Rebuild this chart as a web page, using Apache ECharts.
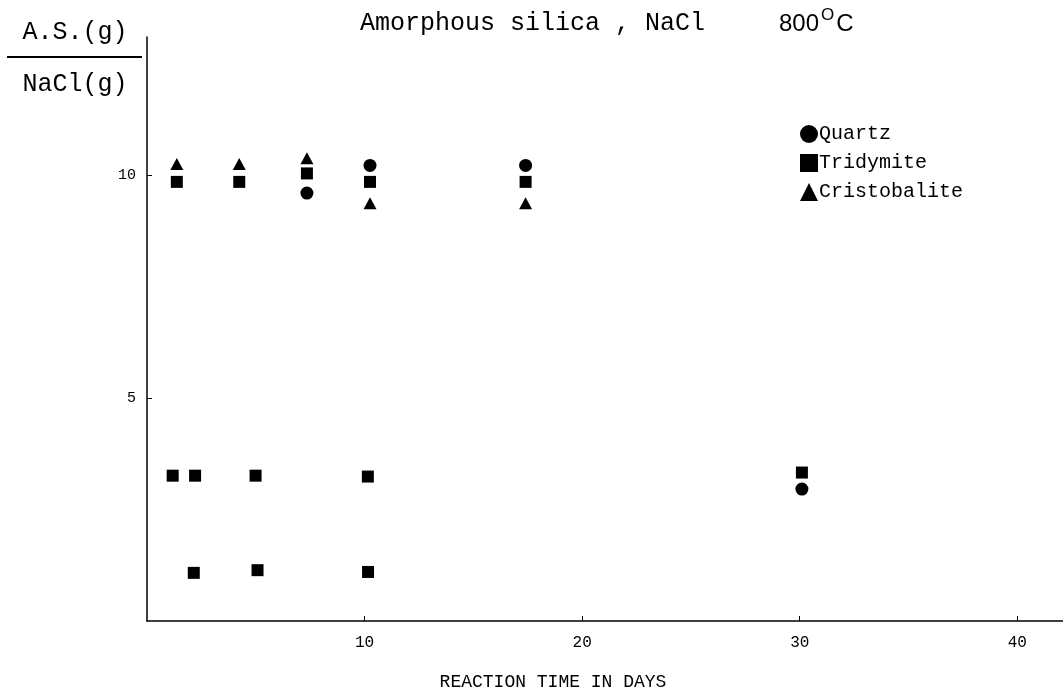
<!DOCTYPE html>
<html>
<head>
<meta charset="utf-8">
<title>Amorphous silica, NaCl 800°C</title>
<script src="https://cdn.jsdelivr.net/npm/echarts@6/dist/echarts.min.js"></script>
<style>
html, body { margin: 0; padding: 0; background: #fff; }
#main { width: 1063px; height: 693px; }
</style>
</head>
<body>
<div id="main"></div>
<script>
// reaction time (days) and A.S.(g)/NaCl(g)
var quartzDays = [7.35, 10.25, 17.4, 30.1];
var quartzRatio = [9.60, 10.22, 10.22, 2.96];

var tridymiteDays = [1.37, 4.24, 7.35, 10.25, 17.4, 1.18, 2.21, 4.99, 10.15, 2.15, 5.08, 10.16, 30.1];
var tridymiteRatio = [9.85, 9.85, 10.04, 9.85, 9.85, 3.26, 3.26, 3.26, 3.24, 1.08, 1.14, 1.10, 3.33];

var cristobaliteDays = [1.37, 4.24, 7.35, 10.25, 17.4];
var cristobaliteRatio = [10.25, 10.25, 10.38, 9.37, 9.37];

var seriesNames = ['Quartz', 'Tridymite', 'Cristobalite'];
var xTicks = { min: 0, max: 42.1, interval: 10 };
var yTicks = { min: 0, max: 13.1, interval: 5 };

function pairs(xs, ys) {
  return xs.map(function (x, i) { return [x, ys[i]]; });
}

var mono = '"Liberation Mono", "DejaVu Sans Mono", monospace';
var sans = '"Liberation Sans", Arial, sans-serif';
var black = { color: '#000', opacity: 1 };

var myChart = echarts.init(document.getElementById('main'));
var option = {
  backgroundColor: '#fff',
  animation: false,
  title: [
    {
      text: 'Amorphous silica , NaCl',
      left: 355, top: 6,
      textStyle: { fontFamily: mono, fontSize: 25, fontWeight: 'normal', color: '#000' }
    },
    {
      text: '{n|800}{s|O}{n|C}',
      left: 774, top: 2,
      textStyle: {
        rich: {
          n: { fontFamily: sans, fontSize: 24, fontWeight: 'normal', color: '#000' },
          s: { fontFamily: sans, fontSize: 17, fontWeight: 'normal', color: '#000', padding: [0, 2, 17, 2] }
        }
      }
    },
    {
      text: 'REACTION TIME IN DAYS',
      left: 548, top: 668, textAlign: 'center',
      textStyle: { fontFamily: mono, fontSize: 18, fontWeight: 'normal', color: '#000' }
    }
  ],
  graphic: [
    { type: 'text', x: 75, y: 32, style: { text: 'A.S.(g)', font: '25px ' + mono, fill: '#000', align: 'center', verticalAlign: 'middle' } },
    { type: 'line', shape: { x1: 7, y1: 57, x2: 142, y2: 57 }, style: { stroke: '#000', lineWidth: 2 } },
    { type: 'text', x: 75, y: 84, style: { text: 'NaCl(g)', font: '25px ' + mono, fill: '#000', align: 'center', verticalAlign: 'middle' } }
  ],
  legend: {
    data: [
      { name: seriesNames[0], icon: 'circle' },
      { name: seriesNames[1], icon: 'rect' },
      { name: seriesNames[2], icon: 'triangle' }
    ],
    orient: 'vertical',
    left: 795, top: 119,
    itemWidth: 18, itemHeight: 18, itemGap: 9,
    itemStyle: black,
    textStyle: { fontFamily: mono, fontSize: 20, color: '#000', padding: [0, 0, 0, -4] }
  },
  grid: { left: 147, right: 0, top: 37, bottom: 72 },
  xAxis: {
    type: 'value',
    min: xTicks.min, max: xTicks.max, interval: xTicks.interval,
    axisLine: { lineStyle: { color: '#000', width: 1.5 } },
    axisTick: { inside: true, length: 5, lineStyle: { color: '#000' } },
    axisLabel: { showMinLabel: false, showMaxLabel: false, margin: 14, fontFamily: mono, fontSize: 16, color: '#000' },
    splitLine: { show: false }
  },
  yAxis: {
    type: 'value',
    min: yTicks.min, max: yTicks.max, interval: yTicks.interval,
    axisLine: { show: true, lineStyle: { color: '#000', width: 1.5 } },
    axisTick: { show: true, inside: true, length: 5, lineStyle: { color: '#000' } },
    axisLabel: { showMinLabel: false, showMaxLabel: false, margin: 11, fontFamily: mono, fontSize: 15, color: '#000' },
    splitLine: { show: false }
  },
  series: [
    {
      name: seriesNames[0], type: 'scatter', symbol: 'circle', symbolSize: 13,
      itemStyle: black,
      data: pairs(quartzDays, quartzRatio)
    },
    {
      name: seriesNames[1], type: 'scatter', symbol: 'rect', symbolSize: 12,
      itemStyle: black,
      data: pairs(tridymiteDays, tridymiteRatio)
    },
    {
      name: seriesNames[2], type: 'scatter', symbol: 'triangle', symbolSize: [13, 12],
      itemStyle: black,
      data: pairs(cristobaliteDays, cristobaliteRatio)
    }
  ]
};
option && myChart.setOption(option);
</script>
</body>
</html>
